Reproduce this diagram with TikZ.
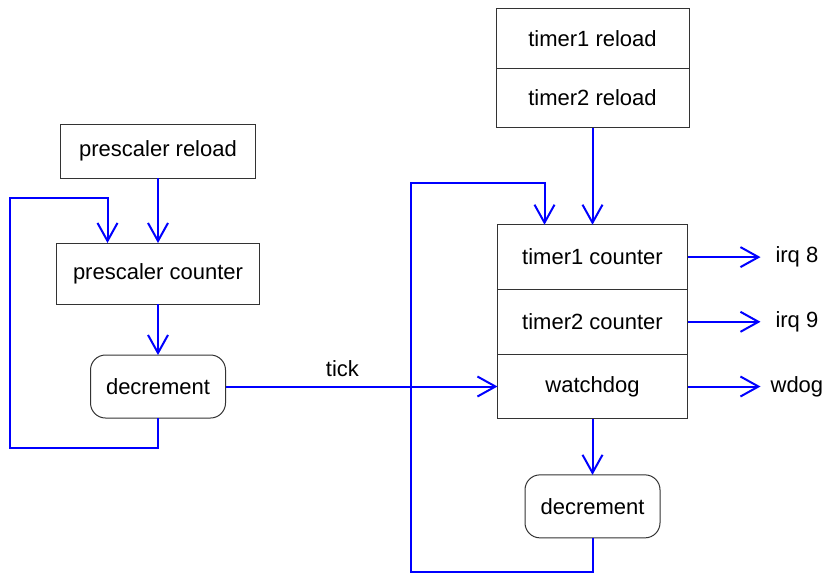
\documentclass[tikz,border=0pt]{standalone}
\usepackage{fontspec}
\setmainfont{Liberation Sans}
\usetikzlibrary{arrows.meta,positioning}

\begin{document}
\begin{tikzpicture}[
  font=\fontsize{11}{13}\selectfont,
  box/.style={draw=black!80, line width=0.5pt, minimum width=97.5pt, minimum height=27pt, inner sep=0pt, outer sep=0pt, align=center},
  rbox/.style={box, rounded corners=7.5pt, minimum width=67.5pt, minimum height=31.5pt},
  cnt/.style={box, minimum width=95pt, minimum height=32.35pt},
  rld/.style={box, minimum width=96.5pt, minimum height=29.75pt},
  arr/.style={-{Straight Barb[length=9pt,width=10pt]}, blue, line width=1pt},
  outlbl/.style={minimum width=36pt, inner sep=0pt}
]
\useasboundingbox (0,0) rectangle (411.5pt,-287pt);
% prescaler side
\node[box] (preload) at (79pt,-75.5pt) {prescaler reload};
\node[box, minimum width=101.5pt, minimum height=30.5pt, below=32.5pt of preload] (pcount) {prescaler counter};
\node[rbox, below=25.5pt of pcount] (pdec) {decrement};
% timer side
\node[cnt, right=136pt of pdec] (wdog) {watchdog};
\node[cnt, above=0pt of wdog] (t2count) {timer2 counter};
\node[cnt, above=0pt of t2count] (t1count) {timer1 counter};
\node[rld, above=48.5pt of t1count] (t2reload) {timer2 reload};
\node[rld, above=0pt of t2reload] (t1reload) {timer1 reload};
\node[rbox, below=28pt of wdog] (tdec) {decrement};
% outputs
\node[outlbl, right=36.5pt of t1count] (irq8) {irq 8};
\node[outlbl, right=36.5pt of t2count] (irq9) {irq 9};
\node[outlbl, right=36.5pt of wdog] (wdogout) {wdog};
\draw[arr] (preload)--(pcount);
\draw[arr] (pcount)--(pdec);
\draw[arr] (pdec.south) -- ++(0,-15pt) -| ([xshift=-23.5pt]pcount.west) |- ([xshift=-25.25pt,yshift=22.5pt]pcount.north) -- ([xshift=-25.25pt]pcount.north);
\draw[arr] (pdec) -- node[pos=0.43, above=1pt, black] (ticklbl) {tick} (wdog);
\draw[arr] (t2reload)--(t1count);
\draw[arr] (wdog)--(tdec);
\draw[arr] (tdec.south) -- ++(0,-17pt) -| ([xshift=-43.5pt]wdog.west) |- ([xshift=-24pt,yshift=21pt]t1count.north) -- ([xshift=-24pt]t1count.north);
\draw[arr] (t1count)--(irq8);
\draw[arr] (t2count)--(irq9);
\draw[arr] (wdog)--(wdogout);
\end{tikzpicture}
\end{document}
